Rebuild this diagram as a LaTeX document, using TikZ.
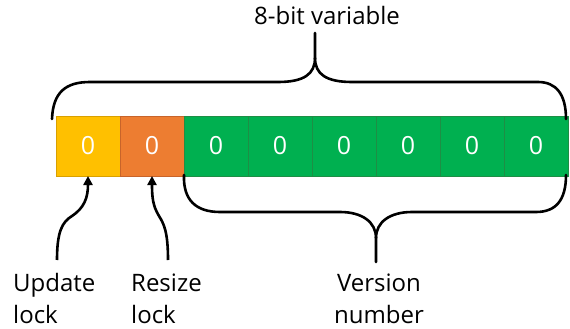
\documentclass[tikz,border=0pt]{standalone}
\usepackage{fontspec}
\setmainfont{Open Sans}
\usetikzlibrary{arrows.meta}
\definecolor{cyellow}{HTML}{FFC000}
\definecolor{corange}{HTML}{ED7D31}
\definecolor{cgreen}{HTML}{00B050}
\definecolor{byellow}{HTML}{D9A000}
\definecolor{borange}{HTML}{C8642A}
\definecolor{bgreen}{HTML}{1E8E45}
\begin{document}
\begin{tikzpicture}[x=1pt,y=-1pt,
  cell/.style={minimum width=64pt,minimum height=60pt,inner sep=0pt,outer sep=0pt,
    text=white,font=\fontsize{25}{30}\selectfont,line width=0.8pt},
  lbl/.style={inner sep=0pt,font=\fontsize{24}{30}\selectfont},
  brace/.style={line width=2.6pt,black},
  arr/.style={line width=2.6pt,black,-{Triangle[length=9pt,width=9pt]}}]
\useasboundingbox (0,0) rectangle (570,329);
% cells
\node[cell,fill=cyellow,draw=byellow] (c1) at (88,146) {0};
\node[cell,fill=corange,draw=borange] (c2) at (152,146) {0};
\foreach \i in {3,...,8}{
  \node[cell,fill=cgreen,draw=bgreen] (c\i) at ({56+64*(\i-1)+32},146) {0};
}
% labels
\node[lbl,anchor=base] (title) at (327,25) {8-bit variable};
\node[lbl,anchor=base west] (upd1) at (13,291) {Update};
\node[lbl,anchor=base west] (upd2) at (13,323) {lock};
\node[lbl,anchor=base west] (res1) at (131,291) {Resize};
\node[lbl,anchor=base west] (res2) at (131,323) {lock};
\node[lbl,anchor=base] (ver1) at (379,291) {Version};
\node[lbl,anchor=base] (ver2) at (379,323) {number};
% top brace
\coordinate (tl) at ([xshift=-4pt,yshift=-3pt]c1.north west);
\coordinate (tr) at ([xshift=-2pt,yshift=-3pt]c8.north east);
\coordinate (tp) at (315,33);
\draw[brace,line cap=round] (tl) .. controls (53,92) and (66,82) .. (90,82)
  -- (278,82) .. controls (304,82) and (315,74) .. (315,58) -- (tp);
\draw[brace,line cap=round] (315,58) .. controls (315,74) and (326,82) .. (352,82)
  -- (538,82) .. controls (556,82) and (566,94) .. (tr);
% bottom brace
\coordinate (bl) at ([yshift=1pt]c3.south west);
\coordinate (br) at ([xshift=-2pt,yshift=1pt]c8.south east);
\coordinate (bp) at (376,262);
\draw[brace,line cap=round] (bl) .. controls (183,200) and (196,212) .. (220,212)
  -- (340,212) .. controls (362,212) and (376,222) .. (376,238) -- (bp);
\draw[brace,line cap=round] (376,238) .. controls (376,222) and (390,212) .. (412,212)
  -- (536,212) .. controls (556,212) and (566,200) .. (br);
% arrows
\coordinate (ua) at (57,260);
\coordinate (ra) at (168,260);
\draw[arr] (ua) .. controls (57,232) and (62,222) .. (72,216)
  .. controls (84,208) and (88,198) .. (c1.south);
\draw[arr] (ra) .. controls (168,232) and (164,224) .. (159,216)
  .. controls (153,206) and (152,198) .. (c2.south);
\end{tikzpicture}
\end{document}
